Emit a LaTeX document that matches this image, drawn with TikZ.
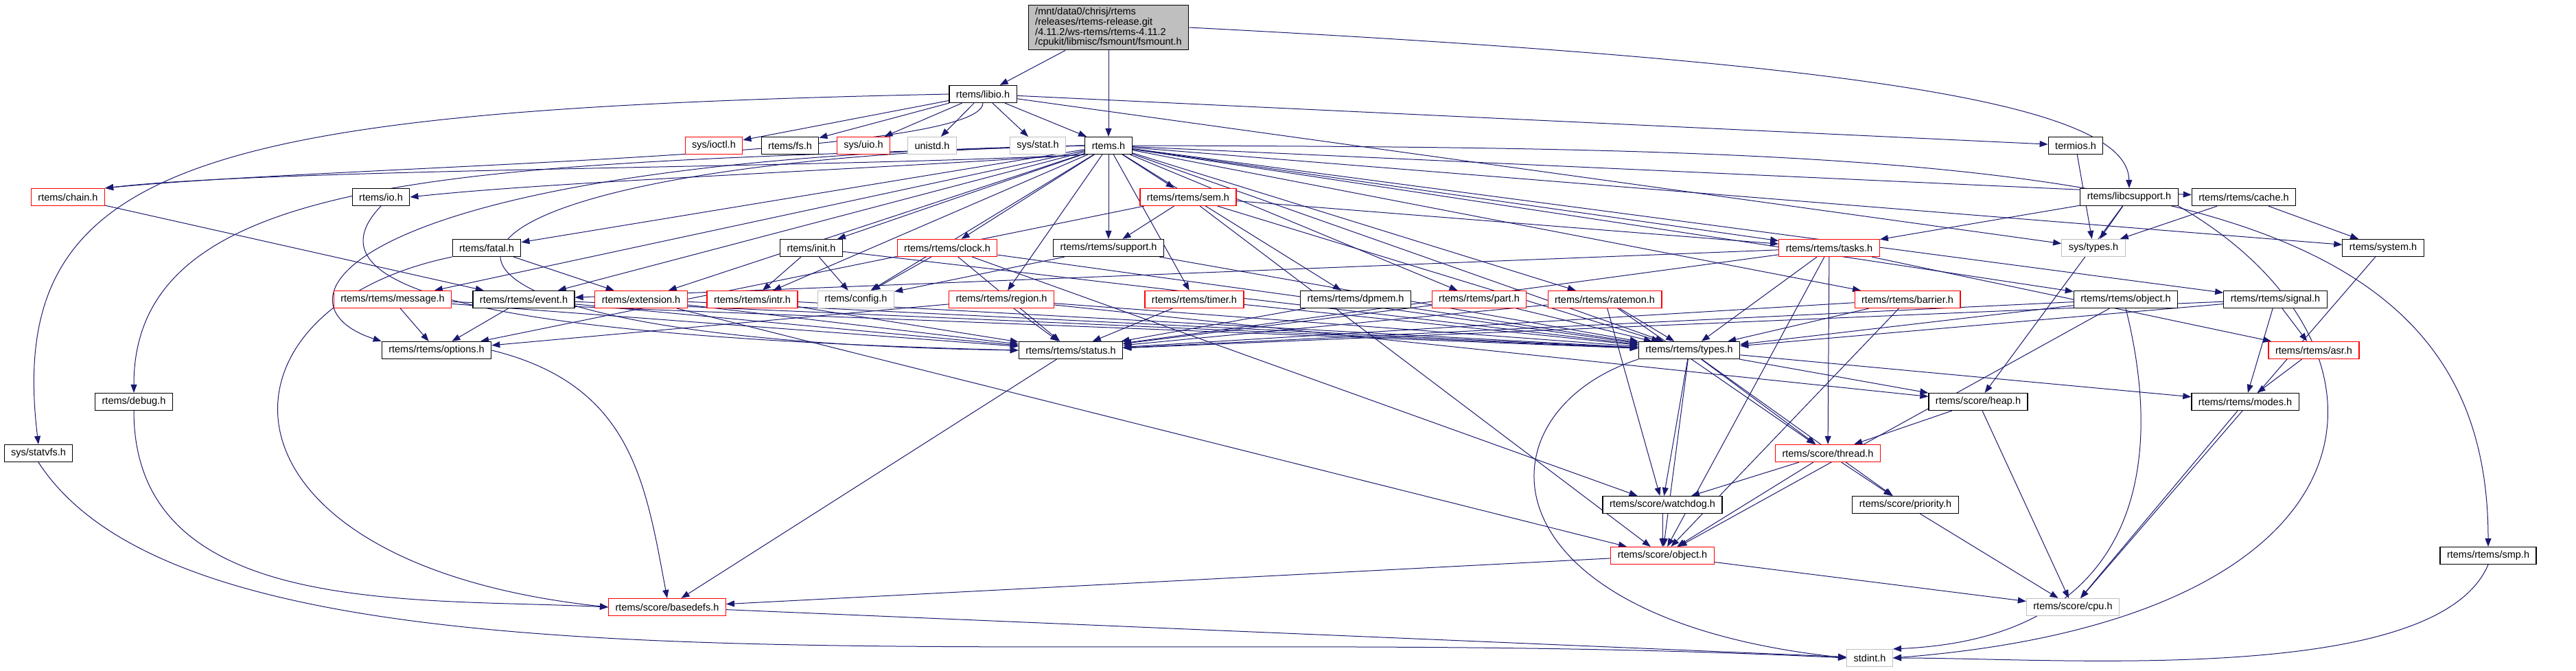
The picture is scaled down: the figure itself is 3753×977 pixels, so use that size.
\documentclass[tikz,border=0pt]{standalone}
\usepackage{fontspec}
\setmainfont{Liberation Sans}
\usetikzlibrary{arrows.meta,backgrounds}
\definecolor{edgeBlue}{HTML}{191970}
\definecolor{nodeGray}{HTML}{BFBFBF}
\tikzset{
  hdr/.style={draw=black, line width=1.2pt, fill=white, minimum height=25pt,
    inner xsep=10pt, inner ysep=1pt, font=\fontsize{14.5}{14.7}\selectfont},
  hdrRed/.style={hdr, draw=red},
  hdrGray/.style={hdr, draw=nodeGray},
  hdrRoot/.style={hdr, fill=nodeGray, align=left, inner ysep=4pt},
  dep/.style={draw=edgeBlue, line width=1pt, -{Triangle[length=12pt,width=9pt]}},
}
\begin{document}
\begin{tikzpicture}[x=1pt,y=-1pt]
\useasboundingbox (0,0) rectangle (3753,977);
% top
\node[hdrRoot] (fsmount) at (1615,40) {/mnt/data0/chrisj/rtems\\/releases/rtems-release.git\\/4.11.2/ws-rtems/rtems-4.11.2\\/cpukit/libmisc/fsmount/fsmount.h};
\node[hdr] (libio) at (1432,137) {rtems/libio.h};
% row A
\node[hdrRed]  (ioctl)   at (1040,212) {sys/ioctl.h};
\node[hdr]     (fs)      at (1151,212) {rtems/fs.h};
\node[hdrRed]  (uio)     at (1258,212) {sys/uio.h};
\node[hdrGray] (unistd)  at (1358,212) {unistd.h};
\node[hdrGray] (sysstat) at (1512,212) {sys/stat.h};
\node[hdr]     (rtemsh)  at (1615,212) {rtems.h};
\node[hdr]     (termios) at (3024,212) {termios.h};
% row B
\node[hdrRed] (chain)       at (99,287)   {rtems/chain.h};
\node[hdr]    (io)          at (555,287)  {rtems/io.h};
\node[hdrRed] (sem)         at (1731,287) {rtems/rtems/sem.h};
\node[hdr]    (libcsupport) at (3102,287) {rtems/libcsupport.h};
\node[hdr]    (cache)       at (3269,287) {rtems/rtems/cache.h};
% row C
\node[hdr]     (fatal)    at (709,361)  {rtems/fatal.h};
\node[hdr]     (init)     at (1182,361) {rtems/init.h};
\node[hdrRed]  (clock)    at (1380,361) {rtems/rtems/clock.h};
\node[hdr]     (support)  at (1615,361) {rtems/rtems/support.h};
\node[hdrRed]  (tasks)    at (2665,361) {rtems/rtems/tasks.h};
\node[hdrGray] (systypes) at (3050,361) {sys/types.h};
\node[hdr]     (system)   at (3472,361) {rtems/system.h};
% row D
\node[hdrRed]  (message)   at (572,436)  {rtems/rtems/message.h};
\node[hdr]     (event)     at (763,436)  {rtems/rtems/event.h};
\node[hdrRed]  (extension) at (934,436)  {rtems/extension.h};
\node[hdrRed]  (intr)      at (1096,436) {rtems/rtems/intr.h};
\node[hdrGray] (config)    at (1247,436) {rtems/config.h};
\node[hdrRed]  (region)    at (1459,436) {rtems/rtems/region.h};
\node[hdrRed]  (timer)     at (1740,436) {rtems/rtems/timer.h};
\node[hdr]     (dpmem)     at (1975,436) {rtems/rtems/dpmem.h};
\node[hdrRed]  (part)      at (2155,436) {rtems/rtems/part.h};
\node[hdrRed]  (ratemon)   at (2338,436) {rtems/rtems/ratemon.h};
\node[hdrRed]  (barrier)   at (2779,436) {rtems/rtems/barrier.h};
\node[hdr]     (robject)   at (3097,436) {rtems/rtems/object.h};
\node[hdr]     (signal)    at (3315,436) {rtems/rtems/signal.h};
% row E
\node[hdr]    (options) at (636,510)  {rtems/rtems/options.h};
\node[hdr]    (status)  at (1560,510) {rtems/rtems/status.h};
\node[hdr]    (types)   at (2461,510) {rtems/rtems/types.h};
\node[hdrRed] (asr)     at (3371,510) {rtems/rtems/asr.h};
% lower rows
\node[hdr]     (debug)    at (195,585)  {rtems/debug.h};
\node[hdr]     (heap)     at (2882,585) {rtems/score/heap.h};
\node[hdr]     (modes)    at (3271,585) {rtems/rtems/modes.h};
\node[hdr]     (statvfs)  at (56,660)   {sys/statvfs.h};
\node[hdrRed]  (thread)   at (2663,660) {rtems/score/thread.h};
\node[hdr]     (watchdog) at (2422,735) {rtems/score/watchdog.h};
\node[hdr]     (priority) at (2776,735) {rtems/score/priority.h};
\node[hdrRed]  (sobject)  at (2422,809) {rtems/score/object.h};
\node[hdr]     (smp)      at (3625,809) {rtems/rtems/smp.h};
\node[hdrRed]  (basedefs) at (972,884)  {rtems/score/basedefs.h};
\node[hdrGray] (cpu)      at (3020,884) {rtems/score/cpu.h};
\node[hdrGray] (stdint)   at (2724,958) {stdint.h};

\begin{scope}[on background layer]
\foreach \dst in {libio,rtemsh} \draw[dep] (fsmount) -- (\dst);
\draw[dep] (fsmount.east) .. controls (2700,90) and (3100,150) .. (libcsupport.north);
\foreach \dst in {ioctl,fs,uio,unistd,sysstat,rtemsh,termios,systypes} \draw[dep] (libio) -- (\dst);
\draw[dep] (libio.south) .. controls (1430,230) and (500,240) .. (chain.north east);
\draw[dep] (libio.west) .. controls (300,160) and (5,230) .. (statvfs.north);
\foreach \dst in {fatal,init,clock,support,sem,tasks,message,event,extension,intr,config,region,timer,dpmem,part,ratemon,barrier,robject,signal,cache,system,types}
  \draw[dep] (rtemsh) -- (\dst);
\draw[dep] (rtemsh.south west) .. controls (1200,245) and (400,245) .. (chain.north east);
\draw[dep] (rtemsh.south west) .. controls (1200,250) and (800,265) .. (io.east);
\draw[dep] (rtemsh.west) .. controls (700,240) and (195,240) .. (debug.north);
\draw[dep] (rtemsh.west) .. controls (500,230) and (380,440) .. (options.north west);
\draw[dep] (rtemsh.west) .. controls (500,235) and (430,495) .. (status.west);
\draw[dep] (rtemsh.east) .. controls (3000,215) and (3625,240) .. (smp.north);
\draw[dep] (chain) -- (event);
\draw[dep] (io.south) .. controls (440,420) and (700,490) .. (status.west);
\draw[dep] (fatal) -- (extension);
\draw[dep] (fatal.south west) .. controls (290,450) and (290,820) .. (basedefs.west);
\foreach \dst in {intr,config,types} \draw[dep] (init) -- (\dst);
\foreach \dst in {config,status,types,watchdog} \draw[dep] (clock) -- (\dst);
\foreach \dst in {config,types} \draw[dep] (support) -- (\dst);
\foreach \dst in {support,tasks,options,types,sobject} \draw[dep] (sem) -- (\dst);
\foreach \dst in {event,status,types,thread,sobject,asr} \draw[dep] (tasks) -- (\dst);
\draw[dep] (termios) -- (systypes);
\foreach \dst in {tasks,systypes,heap} \draw[dep] (libcsupport) -- (\dst);
\draw[dep] (libcsupport.south east) .. controls (3520,500) and (3500,900) .. (stdint.east);
\foreach \dst in {systypes,system} \draw[dep] (cache) -- (\dst);
\draw[dep] (system) -- (cpu);
\foreach \src in {message,event,region} \draw[dep] (\src) -- (options);
\foreach \src in {message,event,extension,intr,region,timer,dpmem,part,ratemon,barrier,robject,signal}
  \draw[dep] (\src) -- (status);
\foreach \src in {message,event,extension,intr,region,timer,dpmem,part,ratemon,barrier,robject,signal}
  \draw[dep] (\src) -- (types);
\foreach \src in {extension,barrier,robject,types,thread,watchdog} \draw[dep] (\src) -- (sobject);
\draw[dep] (region) -- (heap);
\foreach \dst in {watchdog,thread} \draw[dep] (ratemon) -- (\dst);
\draw[dep] (robject.south) .. controls (3160,700) and (3100,930) .. (stdint.north east);
\foreach \dst in {asr,modes} \draw[dep] (signal) -- (\dst);
\draw[dep] (asr) -- (modes);
\draw[dep] (options.east) .. controls (920,560) and (940,700) .. (basedefs.north);
\draw[dep] (status) -- (basedefs);
\foreach \dst in {heap,modes,thread,watchdog,priority} \draw[dep] (types) -- (\dst);
\draw[dep] (types.south west) .. controls (2150,600) and (2150,900) .. (stdint.west);
\draw[dep] (debug.south) .. controls (195,900) and (600,870) .. (basedefs.west);
\draw[dep] (heap) -- (thread);
\draw[dep] (heap) -- (cpu);
\draw[dep] (modes) -- (cpu);
\foreach \dst in {watchdog,priority} \draw[dep] (thread) -- (\dst);
\draw[dep] (priority) -- (cpu);
\draw[dep] (sobject) -- (basedefs);
\draw[dep] (sobject) -- (cpu);
\draw[dep] (basedefs) -- (stdint);
\draw[dep] (statvfs.south) .. controls (300,1050) and (1500,900) .. (stdint.west);
\draw[dep] (smp.south) .. controls (3550,1000) and (3000,958) .. (stdint.east);
\end{scope}
\end{tikzpicture}
\end{document}
